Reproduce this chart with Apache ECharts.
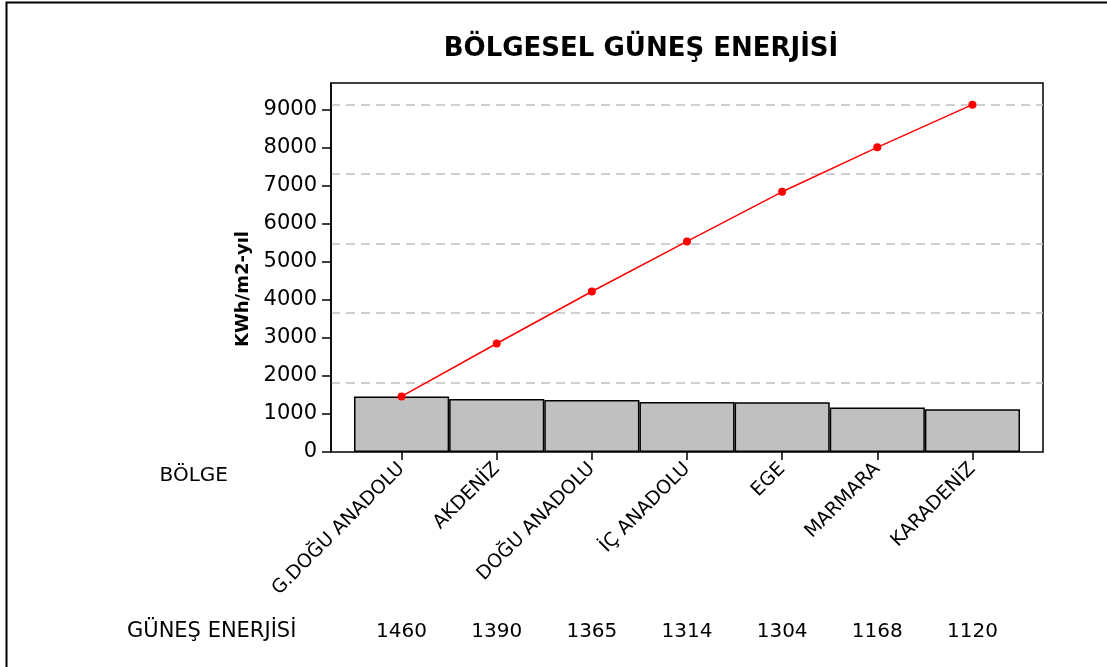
<!DOCTYPE html>
<html>
<head>
<meta charset="utf-8">
<script src="https://cdn.jsdelivr.net/npm/echarts@6/dist/echarts.min.js"></script>
<style>
  html, body { margin: 0; padding: 0; background: #fff; }
  #chart { width: 1107px; height: 667px; }
</style>
</head>
<body>
<div id="chart"></div>
<script>
// veri
var regions = ['G.DOĞU ANADOLU', 'AKDENİZ', 'DOĞU ANADOLU', 'İÇ ANADOLU', 'EGE', 'MARMARA', 'KARADENİZ']
var energy = [1460, 1390, 1365, 1314, 1304, 1168, 1120]
var cumulative = [1460, 2850, 4215, 5529, 6833, 8001, 9121]
var yTicks = [0, 1000, 2000, 3000, 4000, 5000, 6000, 7000, 8000, 9000]

var yMax = 9690
var total = cumulative[cumulative.length - 1]
var pctMax = yMax / total * 100
var font = 'DejaVu Sans'

var myChart = echarts.init(document.getElementById('chart'))
var option = {
  backgroundColor: '#fff',
  animation: false,
  textStyle: { fontFamily: font },
  graphic: [
    {
      type: 'rect',
      shape: { x: 6.5, y: 2.5, width: 1200, height: 800 },
      style: { fill: 'none', stroke: '#000', lineWidth: 2 }
    },
    {
      type: 'text', x: 641, y: 49,
      style: { text: 'BÖLGESEL GÜNEŞ ENERJİSİ', font: 'bold 26px "DejaVu Sans"', fill: '#000', textAlign: 'center', textVerticalAlign: 'middle' }
    },
    {
      type: 'text', x: 243, y: 289, rotation: Math.PI / 2,
      style: { text: 'KWh/m2-yıl', font: 'bold 18px "DejaVu Sans"', fill: '#000', textAlign: 'center', textVerticalAlign: 'middle' }
    },
    {
      type: 'text', x: 228, y: 476,
      style: { text: 'BÖLGE', font: '20px "DejaVu Sans"', fill: '#000', textAlign: 'right', textVerticalAlign: 'middle' }
    },
    {
      type: 'text', x: 127, y: 632,
      style: { text: 'GÜNEŞ ENERJİSİ', font: '21px "DejaVu Sans"', fill: '#000', textAlign: 'left', textVerticalAlign: 'middle' }
    }
  ],
  grid: [
    { left: 331, top: 83, width: 712, height: 369, show: true, borderColor: '#000', borderWidth: 1.5, backgroundColor: 'transparent' },
    { left: 354, top: 83, width: 666, height: 369 }
  ],
  xAxis: [
    { gridIndex: 0, type: 'value', min: 0, max: 1, show: false },
    {
      gridIndex: 1,
      type: 'category',
      data: regions,
      position: 'bottom',
      axisLine: { show: false },
      axisTick: { show: true, alignWithLabel: true, length: 8, lineStyle: { color: '#000', width: 1.5 } },
      axisLabel: { interval: 0, rotate: 45, margin: 14, fontSize: 19, color: '#000', fontFamily: font },
      splitLine: { show: false }
    },
    {
      gridIndex: 1,
      type: 'category',
      data: energy,
      position: 'bottom',
      offset: 162,
      axisLine: { show: false },
      axisTick: { show: false },
      axisLabel: { interval: 0, margin: 8, fontSize: 20, color: '#000', fontFamily: font },
      splitLine: { show: false }
    }
  ],
  yAxis: [
    {
      gridIndex: 0,
      type: 'value',
      min: 0,
      max: yMax,
      axisLine: { show: true, lineStyle: { color: '#000', width: 1.5 } },
      axisTick: { show: true, length: 9, customValues: yTicks, lineStyle: { color: '#000', width: 1.5 } },
      axisLabel: {
        customValues: yTicks, margin: 14, fontSize: 21, color: '#000', fontFamily: font,
        formatter: function (v) { return String(v) }
      },
      splitLine: { show: false }
    },
    {
      gridIndex: 0,
      type: 'value',
      position: 'right',
      min: 0,
      max: pctMax,
      interval: 20,
      axisLine: { show: false },
      axisTick: { show: false },
      axisLabel: { show: false },
      splitLine: { show: true, showMinLine: false, showMaxLine: false, lineStyle: { color: '#c0c0c0', width: 1.5, type: [9, 6] } }
    },
    { gridIndex: 1, type: 'value', min: 0, max: yMax, show: false, splitLine: { show: false } }
  ],
  series: [
    {
      name: 'Güneş Enerjisi',
      type: 'bar',
      xAxisIndex: 1,
      yAxisIndex: 2,
      data: energy,
      barCategoryGap: '0%',
      itemStyle: { color: '#c0c0c0', borderColor: '#000', borderWidth: 1.5 },
      z: 2
    },
    {
      name: 'Kümülatif',
      type: 'line',
      xAxisIndex: 1,
      yAxisIndex: 2,
      data: cumulative,
      symbol: 'circle',
      symbolSize: 8,
      lineStyle: { color: '#ff0000', width: 1.5 },
      itemStyle: { color: '#ff0000' },
      z: 3
    }
  ]
}
myChart.setOption(option)

window.addEventListener('resize', function () {
  myChart.resize()
})
</script>
</body>
</html>
